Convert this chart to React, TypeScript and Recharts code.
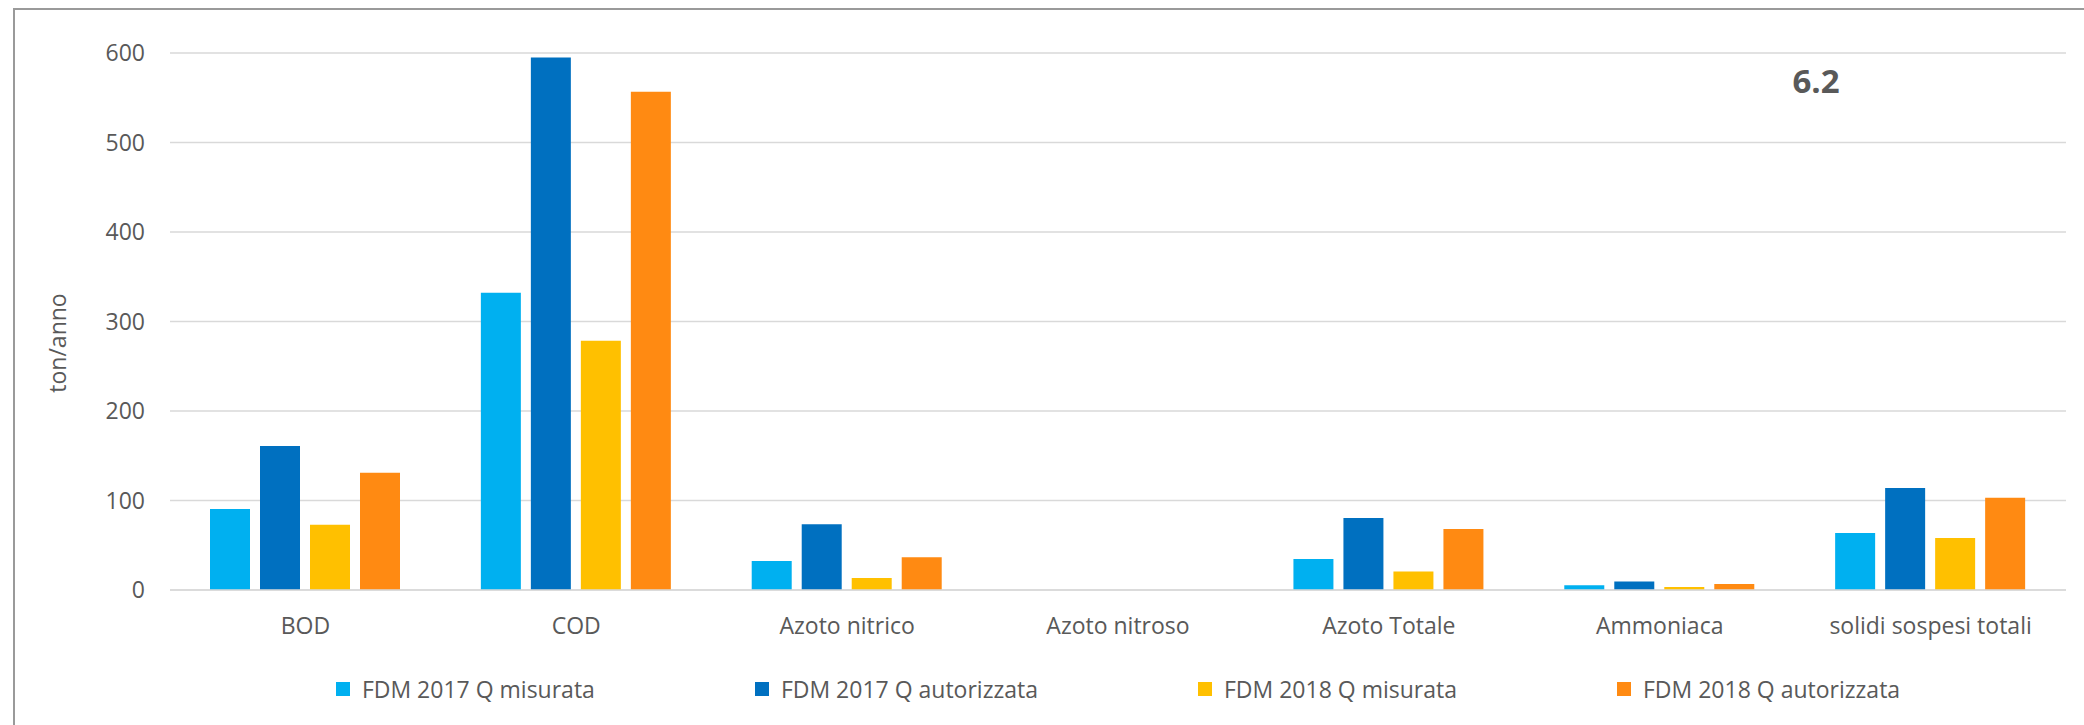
import React from 'react';
import { BarChart, Bar, XAxis, YAxis, CartesianGrid, Legend } from 'recharts';

const categories = [
  'BOD',
  'COD',
  'Azoto nitrico',
  'Azoto nitroso',
  'Azoto Totale',
  'Ammoniaca',
  'solidi sospesi totali',
];

const fdm2017Misurata = [90.5, 332, 32.5, 0, 34.5, 5.2, 63.7];
const fdm2017Autorizzata = [161, 595, 73.4, 0, 80.5, 9.4, 113.9];
const fdm2018Misurata = [72.8, 278.5, 13.5, 0, 20.6, 3.4, 58];
const fdm2018Autorizzata = [131, 556.6, 36.7, 0, 68.2, 6.7, 103];

const yTicks = [0, 100, 200, 300, 400, 500, 600];

const series = [
  { key: 'm17', name: 'FDM 2017 Q misurata', color: '#00B0F0', values: fdm2017Misurata },
  { key: 'a17', name: 'FDM 2017 Q autorizzata', color: '#0070C0', values: fdm2017Autorizzata },
  { key: 'm18', name: 'FDM 2018 Q misurata', color: '#FFC000', values: fdm2018Misurata },
  { key: 'a18', name: 'FDM 2018 Q autorizzata', color: '#FF8A12', values: fdm2018Autorizzata },
];

const chartData = categories.map((name, i) => {
  const row: Record<string, string | number> = { name };
  series.forEach((s) => {
    row[s.key] = s.values[i];
  });
  return row;
});

const FONT = "'Open Sans', sans-serif";
const TEXT = '#595959';

// legend keeps the series order (Recharts sorts the payload by name otherwise)
const renderLegend = () => (
  <div style={{ display: 'flex', justifyContent: 'center', paddingTop: 38 }}>
    {series.map((s, i) => (
      <div key={s.key} style={{ display: 'flex', alignItems: 'center', marginLeft: i ? 160 : 0 }}>
        <span
          style={{ display: 'inline-block', width: 14, height: 14, background: s.color, marginRight: 12 }}
        />
        <span style={{ fontSize: 23, color: TEXT, lineHeight: '32px', fontFamily: FONT }}>
          {s.name}
        </span>
      </div>
    ))}
  </div>
);

const renderYLabel = () => (
  <text
    x={57}
    y={343}
    transform="rotate(-90 57 343)"
    textAnchor="middle"
    dominantBaseline="central"
    fill={TEXT}
    fontSize={23}
    fontFamily={FONT}
  >
    ton/anno
  </text>
);

export default function App() {
  return (
    <div
      style={{
        position: 'absolute',
        left: 0,
        top: 0,
        width: 2084,
        height: 725,
        overflow: 'hidden',
        background: '#fff',
        fontFamily: FONT,
      }}
    >
      {/* chart border, only top and left edges are visible in the crop */}
      <div
        style={{
          position: 'absolute',
          left: 13,
          top: 8,
          width: 2300,
          height: 900,
          border: '2px solid #9a9a9a',
        }}
      />
      <BarChart
        width={2084}
        height={725}
        data={chartData}
        margin={{ top: 53, right: 18, left: 70, bottom: 0 }}
        barCategoryGap={40}
        barGap={10}
      >
        <CartesianGrid vertical={false} stroke="#d9d9d9" strokeWidth={1.5} />
        <XAxis
          dataKey="name"
          interval={0}
          height={45}
          tickLine={false}
          tickSize={0}
          tickMargin={28}
          axisLine={{ stroke: '#d9d9d9', strokeWidth: 1.5 }}
          tick={{ fill: TEXT, fontSize: 23, fontFamily: FONT }}
        />
        <YAxis
          width={100}
          domain={[0, 600]}
          ticks={yTicks}
          axisLine={false}
          tickLine={false}
          tickSize={0}
          tickMargin={25}
          tick={{ fill: TEXT, fontSize: 23, fontFamily: FONT }}
          label={renderYLabel}
        />
        <Legend
          verticalAlign="bottom"
          content={renderLegend}
          wrapperStyle={{ left: 170, width: 1896, height: 90, bottom: 0 }}
        />
        {series.map((s) => (
          <Bar key={s.key} dataKey={s.key} name={s.name} fill={s.color} isAnimationActive={false} />
        ))}
      </BarChart>
      <div
        style={{
          position: 'absolute',
          left: 1816,
          top: 64,
          transform: 'translateX(-50%)',
          fontSize: 33,
          lineHeight: '33px',
          fontWeight: 700,
          color: TEXT,
        }}
      >
        6.2
      </div>
    </div>
  );
}
